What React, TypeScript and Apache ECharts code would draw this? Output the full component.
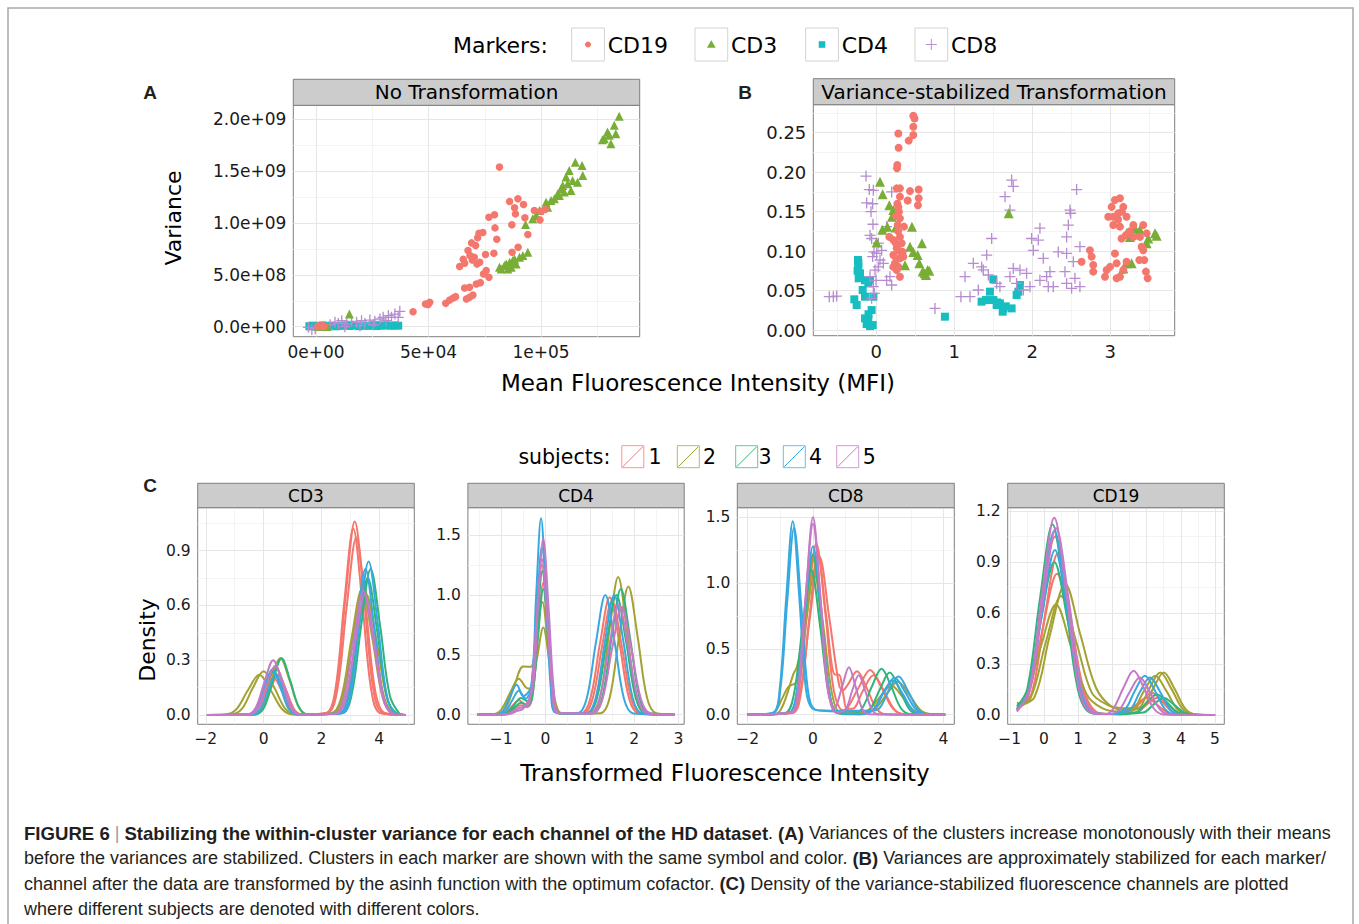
import React, { useEffect, useRef } from "react";
import * as echarts from "echarts";

// ---------------- fonts / colours ----------------
const FONT = "DejaVu Sans";
const CAP_FONT = "Liberation Sans";
const MARKER_NAMES = ["CD19", "CD3", "CD4", "CD8"];
const MARKER_COLORS = ["#F4776D", "#78AE36", "#17BEC1", "#B58DD0"];
const SUBJECTS = ["1", "2", "3", "4", "5"];
const SUBJECT_COLORS = ["#F4766C", "#A3A232", "#2DB57B", "#38A9E0", "#C47AC5"];

// ---------------- Panel A: No Transformation  [MFI, variance] ----------------
const noTransCD19: [number, number][] = [
  [81.5e3, 15.39e8], [89.7e3, 12.33e8], [86.0e3, 12.08e8], [88.2e3, 11.46e8], [92.2e3, 11.79e8],
  [88.6e3, 10.88e8], [92.8e3, 10.5e8], [87.0e3, 9.82e8], [94.1e3, 8.89e8], [89.8e3, 7.66e8],
  [87.1e3, 7.18e8], [97.0e3, 11.21e8], [100.0e3, 11.14e8], [101.8e3, 11.3e8], [99.5e3, 10.3e8],
  [76.8e3, 10.56e8], [79.3e3, 10.79e8], [79.5e3, 9.53e8], [80.3e3, 8.44e8], [79.0e3, 7.08e8],
  [75.3e3, 6.96e8], [72.4e3, 9.02e8], [74.1e3, 9.08e8], [71.8e3, 8.57e8], [69.1e3, 8.08e8],
  [70.9e3, 7.82e8], [67.5e3, 7.34e8], [68.4e3, 6.86e8], [65.4e3, 6.5e8], [66.0e3, 6.12e8],
  [63.8e3, 5.8e8], [70.3e3, 6.7e8], [72.7e3, 6.21e8], [71.5e3, 6.05e8], [69.4e3, 6.44e8],
  [75.6e3, 5.41e8], [74.4e3, 5.09e8], [76.8e3, 4.77e8], [73.0e3, 4.25e8], [71.2e3, 4.12e8],
  [68.2e3, 3.8e8], [66.0e3, 3.74e8], [69.7e3, 3.06e8], [68.2e3, 2.83e8], [66.8e3, 2.67e8],
  [62.0e3, 2.9e8], [60.9e3, 2.77e8], [59.4e3, 2.58e8], [57.6e3, 2.25e8], [50.5e3, 2.35e8],
  [49.8e3, 2.13e8], [48.6e3, 2.19e8], [43.1e3, 1.45e8],
  [0.8e3, 0.02e8], [1.5e3, 0.05e8], [2.2e3, 0.03e8], [3.0e3, 0.06e8], [2.5e3, 0.1e8], [1.0e3, 0.08e8], [3.5e3, 0.04e8],
];
const noTransCD3: [number, number][] = [
  [134.7e3, 20.29e8], [132.5e3, 19.42e8], [133.2e3, 18.61e8], [128.1e3, 18.13e8], [130.3e3, 18.45e8],
  [131.0e3, 17.65e8], [127.3e3, 18.03e8], [129.5e3, 18.77e8],
  [115.2e3, 15.87e8], [118.2e3, 15.55e8], [112.5e3, 15.07e8], [111.1e3, 14.43e8], [118.5e3, 14.59e8],
  [114.0e3, 14.1e8], [109.6e3, 13.62e8], [108.9e3, 13.3e8], [107.4e3, 12.82e8], [105.9e3, 12.33e8],
  [102.2e3, 12.01e8], [102.9e3, 11.53e8], [99.3e3, 11.21e8], [97.8e3, 10.72e8], [96.3e3, 10.4e8],
  [111.8e3, 13.78e8], [116.2e3, 13.94e8], [113.3e3, 13.14e8], [110.3e3, 12.98e8], [108.1e3, 12.65e8],
  [104.4e3, 12.17e8], [93.1e3, 9.85e8],
  [81.5e3, 5.73e8], [83.7e3, 5.89e8], [86.0e3, 6.21e8], [87.4e3, 6.38e8], [88.2e3, 6.54e8],
  [90.4e3, 6.7e8], [91.9e3, 6.86e8], [94.1e3, 7.18e8], [82.3e3, 5.57e8], [85.2e3, 5.57e8],
  [86.7e3, 5.73e8], [88.9e3, 6.05e8], [84.5e3, 6.05e8],
  [14.8e3, 1.22e8], [1.0e3, 0.05e8], [3.0e3, 0.08e8], [5.0e3, 0.03e8], [4.0e3, 0.1e8], [2.0e3, 0.02e8],
];
const noTransCD4: [number, number][] = [
  [-3e3, 0.05e8], [-1.5e3, 0.1e8], [0, 0.02e8], [1.5e3, 0.08e8], [3e3, 0.12e8], [5e3, 0.06e8],
  [7e3, 0.1e8], [9e3, 0.04e8], [11e3, 0.09e8], [13e3, 0.11e8], [15e3, 0.07e8], [17e3, 0.13e8],
  [19e3, 0.05e8], [21e3, 0.1e8], [23e3, 0.08e8], [25e3, 0.12e8], [27e3, 0.06e8], [29e3, 0.1e8],
  [31e3, 0.14e8], [33e3, 0.09e8], [35e3, 0.12e8], [36.5e3, 0.1e8],
];
const noTransCD8: [number, number][] = [
  [-3.4e3, -0.06e8], [-1.9e3, -0.3e8], [-0.4e3, -0.2e8], [6.2e3, 0.19e8], [8.4e3, 0.42e8],
  [9.9e3, 0.32e8], [11.4e3, 0.58e8], [13.6e3, 0.26e8], [15.8e3, 0.52e8], [18.0e3, 0.42e8],
  [20.2e3, 0.58e8], [21.7e3, 0.32e8], [23.9e3, 0.64e8], [26.1e3, 0.52e8], [28.4e3, 0.74e8],
  [29.8e3, 0.9e8], [31.0e3, 0.58e8], [32.1e3, 1.06e8], [33.5e3, 0.9e8], [35.0e3, 1.22e8],
  [36.5e3, 0.9e8], [37.2e3, 1.48e8], [12.8e3, 0.0e8], [19.5e3, 0.1e8], [25.4e3, 0.19e8],
];

// ---------------- Panel B: Variance-stabilized [MFI, variance] ----------------
const vsCD19: [number, number][] = [
  [0.474, 0.2715], [0.49, 0.268], [0.474, 0.2576], [0.474, 0.247], [0.415, 0.24], [0.282, 0.249],
  [0.286, 0.231], [0.269, 0.209], [0.265, 0.205], [0.261, 0.1795], [0.303, 0.1795], [0.432, 0.176],
  [0.543, 0.178], [0.543, 0.167], [0.534, 0.158], [0.402, 0.164], [0.303, 0.169], [0.282, 0.156],
  [0.252, 0.144], [0.303, 0.1415], [0.274, 0.133], [0.355, 0.131], [0.167, 0.118], [0.218, 0.114],
  [0.303, 0.118], [0.325, 0.11], [0.261, 0.1035], [0.218, 0.095], [0.338, 0.099], [0.303, 0.091],
  [0.239, 0.0845], [0.261, 0.076], [0.303, 0.0676], [0.346, 0.093], [0.282, 0.08], [0.218, 0.08],
  [0.28, 0.125], [0.26, 0.09], [0.3, 0.1], [0.29, 0.15], [0.27, 0.16], [0.25, 0.11],
  [3.06, 0.1647], [3.124, 0.167], [3.017, 0.156], [3.167, 0.156], [2.974, 0.1436], [3.038, 0.1436],
  [3.209, 0.1436], [3.102, 0.148], [3.038, 0.133], [3.124, 0.131], [3.295, 0.133], [3.423, 0.133],
  [3.145, 0.116], [3.38, 0.118], [3.466, 0.1225], [3.402, 0.1056], [3.423, 0.101], [2.739, 0.101],
  [2.761, 0.093], [2.632, 0.0866], [2.782, 0.0823], [2.782, 0.074], [2.932, 0.0676], [2.953, 0.076],
  [2.996, 0.08], [3.06, 0.097], [3.081, 0.0845], [3.209, 0.0866], [3.167, 0.076], [3.081, 0.0655],
  [3.124, 0.0676], [3.372, 0.0887], [3.436, 0.0887], [3.457, 0.074], [3.479, 0.0655],
  [3.1, 0.14], [3.15, 0.15], [3.2, 0.12], [3.3, 0.118], [3.25, 0.125],
];
const vsCD3: [number, number][] = [
  [0.047, 0.188], [0.081, 0.172], [0.167, 0.158], [0.201, 0.1436], [0.218, 0.152], [0.141, 0.131],
  [0.077, 0.127], [0.457, 0.131], [0.004, 0.111], [0.585, 0.11], [0.474, 0.099], [0.53, 0.095],
  [0.551, 0.0845], [0.658, 0.076], [0.637, 0.0697], [0.594, 0.074], [0.368, 0.082], [0.432, 0.1056],
  [0.231, 0.0845], [0.62, 0.072], [0.68, 0.075], [0.25, 0.13], [1.697, 0.148],
  [3.316, 0.129], [3.38, 0.127], [3.487, 0.116], [3.594, 0.1195], [3.573, 0.1225], [3.252, 0.118],
  [3.209, 0.1225], [3.466, 0.11], [3.167, 0.078], [3.209, 0.0845], [3.274, 0.0845],
];
const vsCD4: [number, number][] = [
  [-0.235, 0.0887], [-0.231, 0.08], [-0.209, 0.0718], [-0.226, 0.0655], [-0.145, 0.063], [-0.081, 0.063],
  [-0.175, 0.0507], [-0.145, 0.0422], [-0.038, 0.0422], [-0.103, 0.0591], [-0.282, 0.0389], [-0.252, 0.0317],
  [-0.06, 0.0253], [-0.103, 0.0127], [-0.047, 0.0063], [-0.124, 0.0076], [-0.145, 0.0148],
  [-0.23, 0.085], [-0.24, 0.075], [-0.1, 0.02], [-0.08, 0.005], [0.88, 0.0169],
  [1.5, 0.0642], [1.457, 0.0486], [1.35, 0.0359], [1.406, 0.038], [1.5, 0.038], [1.543, 0.0317],
  [1.585, 0.0338], [1.628, 0.0274], [1.62, 0.0232], [1.735, 0.0274], [1.821, 0.0486], [1.842, 0.057],
  [1.799, 0.0443], [1.55, 0.035], [1.66, 0.03],
];
const vsCD8: [number, number][] = [
  [-0.603, 0.0422], [-0.551, 0.0422], [-0.509, 0.043], [-0.132, 0.195], [-0.09, 0.178], [-0.038, 0.177],
  [-0.124, 0.161], [-0.047, 0.16], [-0.068, 0.15], [-0.043, 0.134], [-0.081, 0.12], [-0.06, 0.116],
  [-0.03, 0.099], [0.004, 0.097], [-0.047, 0.093], [0.047, 0.0887], [0.09, 0.0845], [0.026, 0.08],
  [-0.017, 0.076], [-0.081, 0.0676], [-0.004, 0.063], [-0.038, 0.0549], [-0.026, 0.0465], [-0.06, 0.0401],
  [0.132, 0.063], [0.197, 0.057], [0.175, 0.0676], [0.026, 0.11], [0.068, 0.101], [0.197, 0.175],
  [0.132, 0.131], [0.752, 0.0274],
  [1.085, 0.0422], [1.137, 0.0676], [1.244, 0.0845], [1.35, 0.08], [1.415, 0.095], [1.479, 0.116],
  [1.372, 0.0761], [1.308, 0.0507], [1.201, 0.0422], [1.436, 0.0697], [1.65, 0.169], [1.714, 0.152],
  [1.735, 0.19], [1.756, 0.182], [1.756, 0.078], [1.714, 0.0676], [1.799, 0.0591], [1.927, 0.0718],
  [1.97, 0.0549], [1.991, 0.116], [2.013, 0.101], [2.098, 0.129], [2.077, 0.114], [2.141, 0.0908],
  [2.098, 0.063], [2.184, 0.0676], [2.226, 0.0739], [2.205, 0.0549], [2.269, 0.0549], [2.333, 0.099],
  [2.419, 0.0739], [2.44, 0.118], [2.462, 0.133], [2.483, 0.152], [2.491, 0.148], [2.44, 0.097],
  [2.568, 0.178], [2.526, 0.0866], [2.504, 0.0528], [2.611, 0.0549], [2.547, 0.0655], [2.611, 0.1056],
  [2.44, 0.0591], [1.885, 0.0507], [1.842, 0.076], [1.543, 0.0591], [1.585, 0.0549],
];

// ---------------- Panel C: density curves [transformed intensity, density] ----------------
type Curve = [number, number][];
const cd3S1: Curve[] = [
  [[-1.96, 0], [-0.48, .003], [-0.18, .035], [0.12, .158], [0.42, .26], [0.72, .158], [1.02, .035], [1.32, .003], [2.19, .012], [2.51, .143], [2.83, .643], [3.15, 1.06], [3.47, .643], [3.79, .143], [4.11, .012], [4.9, 0]],
  [[-1.96, 0], [-0.34, .002], [-0.06, .03], [0.22, .134], [0.5, .22], [0.78, .134], [1.06, .03], [1.34, .002], [2.21, .011], [2.54, .131], [2.87, .589], [3.2, .97], [3.53, .589], [3.86, .131], [4.19, .011], [4.9, 0]],
  [[-1.96, 0], [-0.54, .002], [-0.24, .027], [0.06, .121], [0.36, .2], [0.66, .121], [0.96, .027], [1.26, .002], [2.17, .011], [2.48, .138], [2.79, .619], [3.1, 1.02], [3.41, .619], [3.72, .138], [4.03, .011], [4.9, 0]],
];
const cd3S2: Curve[] = [
  [[-1.96, 0], [-1.14, .003], [-0.76, .032], [-0.38, .146], [0, .24], [0.38, .146], [0.76, .032], [1.14, .003], [2.37, .008], [2.73, .095], [3.09, .425], [3.45, .7], [3.81, .425], [4.17, .095], [4.53, .008], [4.9, 0]],
  [[-1.96, 0], [-0.38, .003], [-0.06, .042], [0.26, .188], [0.58, .31], [0.9, .188], [1.22, .042], [1.54, .003], [2.47, .007], [2.83, .089], [3.19, .401], [3.55, .66], [3.91, .401], [4.27, .089], [4.63, .007], [4.9, 0]],
  [[-1.96, 0], [-1.35, .002], [-0.95, .03], [-0.55, .134], [-0.15, .22], [0.25, .134], [0.65, .03], [1.05, .002], [2.32, .008], [2.68, .093], [3.04, .419], [3.4, .69], [3.76, .419], [4.12, .093], [4.48, .008], [4.9, 0]],
];
const cd3S3: Curve[] = [
  [[-1.96, 0], [-0.28, .003], [0.02, .042], [0.32, .188], [0.62, .31], [0.92, .188], [1.22, .042], [1.52, .003], [2.71, .009], [3.04, .108], [3.37, .486], [3.7, .8], [4.03, .486], [4.36, .108], [4.69, .009], [4.9, 0]],
  [[-1.96, 0], [-0.55, .003], [-0.25, .032], [0.05, .146], [0.35, .24], [0.65, .146], [0.95, .032], [1.25, .003], [2.61, .008], [2.94, .101], [3.27, .455], [3.6, .75], [3.93, .455], [4.26, .101], [4.59, .008], [4.9, 0]],
];
const cd3S4: Curve[] = [
  [[-1.96, 0], [-0.54, .003], [-0.26, .034], [0.02, .152], [0.3, .25], [0.58, .152], [0.86, .034], [1.14, .003], [2.7, .009], [3.01, .113], [3.32, .51], [3.63, .84], [3.94, .51], [4.25, .113], [4.56, .009], [4.9, 0]],
  [[-1.96, 0], [-0.39, .002], [-0.12, .03], [0.15, .134], [0.42, .22], [0.69, .134], [0.96, .03], [1.23, .002], [2.62, .009], [2.92, .108], [3.22, .486], [3.52, .8], [3.82, .486], [4.12, .108], [4.42, .009], [4.9, 0]],
];
const cd3S5: Curve[] = [
  [[-1.96, 0], [-0.57, .003], [-0.27, .041], [0.03, .182], [0.33, .3], [0.63, .182], [0.93, .041], [1.23, .003], [2.43, .007], [2.77, .092], [3.11, .413], [3.45, .68], [3.79, .413], [4.13, .092], [4.47, .007], [4.9, 0]],
  [[-1.96, 0], [-0.5, .003], [-0.2, .036], [0.1, .164], [0.4, .27], [0.7, .164], [1.0, .036], [1.3, .003], [2.51, .007], [2.84, .089], [3.17, .401], [3.5, .66], [3.83, .401], [4.16, .089], [4.49, .007], [4.9, 0]],
];

const cd4S1: Curve[] = [
  [[-1.54, 0], [-1.05, .001], [-0.9, .016], [-0.75, .073], [-0.6, .12], [-0.45, .084], [-0.32, .19], [-0.2, .762], [-0.08, 1.25], [0.04, .759], [0.16, .169], [0.28, .014], [0.79, .011], [1.01, .132], [1.23, .595], [1.45, .98], [1.67, .595], [1.89, .132], [2.11, .011], [2.92, 0]],
  [[-1.54, 0], [-1.0, .001], [-0.85, .011], [-0.7, .049], [-0.55, .08], [-0.4, .064], [-0.29, .167], [-0.17, .671], [-0.05, 1.1], [0.07, .668], [0.19, .149], [0.31, .012], [0.84, .01], [1.06, .128], [1.28, .577], [1.5, .95], [1.72, .577], [1.94, .128], [2.16, .01], [2.92, 0]],
];
const cd4S2: Curve[] = [
  [[-1.54, 0], [-1.1, .004], [-0.9, .054], [-0.7, .243], [-0.5, .403], [-0.33, .4], [-0.2, .676], [-0.07, .94], [0.06, .554], [0.19, .123], [0.32, .01], [1.04, .013], [1.24, .155], [1.44, .698], [1.64, 1.15], [1.84, .698], [2.04, .155], [2.24, .013], [2.92, 0]],
  [[-1.54, 0], [-1.2, .003], [-1.0, .041], [-0.8, .182], [-0.6, .3], [-0.42, .222], [-0.33, .218], [-0.19, .474], [-0.05, .727], [0.09, .437], [0.23, .097], [0.37, .008], [1.24, .012], [1.45, .144], [1.66, .649], [1.87, 1.07], [2.08, .649], [2.29, .144], [2.5, .012], [2.92, 0]],
];
const cd4S3: Curve[] = [
  [[-1.54, 0], [-1.0, .002], [-0.85, .019], [-0.7, .085], [-0.55, .14], [-0.4, .112], [-0.31, .201], [-0.19, .736], [-0.07, 1.2], [0.05, .728], [0.17, .162], [0.29, .013], [1.07, .012], [1.28, .142], [1.49, .637], [1.7, 1.05], [1.91, .637], [2.12, .142], [2.33, .012], [2.92, 0]],
  [[-1.54, 0], [-1.0, .001], [-0.85, .014], [-0.7, .061], [-0.55, .1], [-0.4, .076], [-0.29, .164], [-0.17, .641], [-0.05, 1.05], [0.07, .637], [0.19, .142], [0.31, .012], [0.94, .011], [1.16, .135], [1.38, .607], [1.6, 1.0], [1.82, .607], [2.04, .135], [2.26, .011], [2.92, 0]],
];
const cd4S4: Curve[] = [
  [[-1.54, 0], [-1.1, .003], [-0.95, .034], [-0.8, .152], [-0.65, .25], [-0.5, .154], [-0.32, .243], [-0.21, .998], [-0.1, 1.64], [0.01, .995], [0.12, .221], [0.23, .018], [0.72, .011], [0.93, .135], [1.14, .607], [1.35, 1.0], [1.56, .607], [1.77, .135], [1.98, .011], [2.92, 0]],
  [[-1.54, 0], [-1.05, .002], [-0.9, .027], [-0.75, .121], [-0.6, .2], [-0.45, .134], [-0.32, .224], [-0.2, .856], [-0.08, 1.4], [0.04, .85], [0.16, .189], [0.28, .015], [0.92, .011], [1.13, .135], [1.34, .607], [1.55, 1.0], [1.76, .607], [1.97, .135], [2.18, .011], [2.92, 0]],
];
const cd4S5: Curve[] = [
  [[-1.54, 0], [-0.95, .001], [-0.8, .007], [-0.65, .03], [-0.5, .051], [-0.29, .217], [-0.17, .896], [-0.05, 1.47], [0.07, .892], [0.19, .198], [0.31, .016], [1.06, .01], [1.28, .122], [1.5, .546], [1.72, .9], [1.94, .546], [2.16, .122], [2.38, .01], [2.92, 0]],
  [[-1.54, 0], [-1.0, .001], [-0.85, .008], [-0.7, .036], [-0.55, .06], [-0.4, .072], [-0.32, .195], [-0.2, .791], [-0.08, 1.3], [0.04, .789], [0.16, .176], [0.28, .014], [0.99, .01], [1.21, .124], [1.43, .558], [1.65, .92], [1.87, .558], [2.09, .124], [2.31, .01], [2.92, 0]],
];

const cd8S1: Curve[] = [
  [[-2.02, 0], [-0.71, .014], [-0.44, .176], [-0.17, .789], [0.1, 1.3], [0.37, .789], [0.64, .179], [0.91, .033], [1.05, .05], [1.4, .206], [1.75, .34], [2.1, .206], [2.45, .046], [2.8, .004], [4.05, 0]],
  [[-2.02, 0], [-0.7, .013], [-0.4, .162], [-0.1, .728], [0.2, 1.2], [0.5, .734], [0.8, .224], [0.92, .186], [1.05, .222], [1.35, .331], [1.65, .2], [1.95, .045], [2.25, .004], [4.05, 0]],
  [[-2.02, 0], [-0.63, .013], [-0.37, .165], [-0.11, .741], [0.15, 1.22], [0.41, .741], [0.67, .304], [0.8, .303], [0.92, .167], [1.04, .046], [1.21, .045], [1.53, .182], [1.85, .3], [2.17, .182], [2.49, .041], [2.81, .003], [4.05, 0]],
];
const cd8S2: Curve[] = [
  [[-2.02, 0], [-1.35, .002], [-1.15, .027], [-0.95, .121], [-0.75, .213], [-0.5, .251], [-0.25, .725], [0, 1.18], [0.25, .716], [0.5, .159], [0.75, .013], [1.2, .02], [1.55, .02], [1.9, .045], [2.25, .152], [2.6, .25], [2.95, .152], [3.3, .034], [3.65, .003], [4.05, 0]],
  [[-2.02, 0], [-1.2, .003], [-1.0, .034], [-0.8, .152], [-0.6, .31], [-0.49, .364], [-0.22, .709], [0.05, 1.1], [0.32, .668], [0.59, .149], [0.86, .012], [1.35, .01], [1.7, .035], [2.05, .134], [2.4, .22], [2.75, .134], [3.1, .03], [3.45, .002], [4.05, 0]],
];
const cd8S3: Curve[] = [
  [[-2.02, 0], [-0.75, .013], [-0.5, .165], [-0.25, .741], [0, 1.22], [0.25, .741], [0.5, .165], [0.75, .013], [1.2, .004], [1.5, .047], [1.8, .212], [2.1, .35], [2.4, .212], [2.7, .047], [3.0, .004], [4.05, 0]],
  [[-2.02, 0], [-0.86, .012], [-0.59, .149], [-0.32, .668], [-0.05, 1.1], [0.22, .668], [0.49, .149], [0.76, .012], [1.45, .004], [1.75, .043], [2.05, .194], [2.35, .32], [2.65, .194], [2.95, .043], [3.25, .004], [4.05, 0]],
];
const cd8S4: Curve[] = [
  [[-2.02, 0], [-1.22, .016], [-1.02, .198], [-0.82, .892], [-0.62, 1.47], [-0.42, .892], [-0.22, .198], [-0.02, .046], [0.3, .032], [1.0, .03], [1.7, .03], [2.02, .045], [2.32, .186], [2.62, .29], [2.92, .176], [3.22, .039], [3.52, .003], [4.05, 0]],
  [[-2.02, 0], [-1.21, .016], [-1.0, .192], [-0.79, .862], [-0.58, 1.42], [-0.37, .862], [-0.16, .192], [0.05, .04], [0.5, .027], [1.2, .025], [1.85, .04], [2.15, .168], [2.45, .26], [2.75, .158], [3.05, .035], [3.35, .003], [4.05, 0]],
  [[-2.02, 0], [-0.75, .014], [-0.5, .173], [-0.25, .777], [0, 1.28], [0.25, .777], [0.5, .173], [0.75, .014], [1.51, .003], [1.84, .038], [2.17, .17], [2.5, .28], [2.83, .17], [3.16, .038], [3.49, .003], [4.05, 0]],
];
const cd8S5: Curve[] = [
  [[-2.02, 0], [-0.66, .017], [-0.44, .203], [-0.22, .911], [0, 1.5], [0.22, .911], [0.44, .205], [0.66, .049], [0.9, .219], [1.1, .36], [1.3, .219], [1.5, .049], [1.7, .004], [4.05, 0]],
  [[-2.02, 0], [-0.69, .016], [-0.46, .196], [-0.23, .88], [0, 1.45], [0.23, .88], [0.46, .196], [0.69, .018], [1.0, .041], [1.2, .182], [1.4, .3], [1.6, .182], [1.8, .041], [2.0, .003], [4.05, 0]],
];

const cd19S1: Curve[] = [
  [[-0.79, .035], [-0.44, .142], [-0.06, .637], [0.32, 1.05], [0.7, .637], [1.08, .142], [1.46, .012], [1.9, .005], [2.25, .003], [2.55, .018], [2.85, .079], [3.15, .13], [3.45, .079], [3.75, .018], [4.05, .001], [5.0, 0]],
  [[-0.79, .03], [-0.46, .112], [-0.04, .504], [0.38, .83], [0.8, .504], [1.22, .112], [1.64, .009], [2.0, .006], [2.7, .014], [3.0, .061], [3.3, .1], [3.6, .061], [3.9, .014], [4.2, .001], [5.0, 0]],
  [[-0.79, .03], [-0.36, .128], [0.02, .577], [0.4, .95], [0.78, .577], [1.16, .128], [1.54, .01], [2.0, .005], [2.4, .011], [2.7, .061], [3.0, .1], [3.3, .061], [3.6, .014], [3.9, .001], [5.0, 0]],
];
const cd19S2: Curve[] = [
  [[-0.79, .05], [-0.28, .104], [0.17, .467], [0.62, .77], [1.07, .467], [1.52, .16], [1.97, .05], [2.4, .03], [2.74, .034], [3.07, .152], [3.4, .25], [3.73, .152], [4.06, .034], [4.39, .003], [5.0, 0]],
  [[-0.79, .06], [-0.55, .088], [-0.1, .395], [0.35, .65], [0.8, .395], [1.25, .12], [1.7, .04], [2.2, .02], [2.59, .031], [2.92, .14], [3.25, .23], [3.58, .14], [3.91, .031], [4.24, .003], [5.0, 0]],
  [[-0.79, .07], [-0.4, .095], [0.05, .425], [0.5, .7], [0.95, .425], [1.4, .13], [1.85, .06], [2.3, .04], [2.86, .045], [3.18, .152], [3.5, .25], [3.82, .152], [4.14, .034], [4.46, .003], [5.0, 0]],
];
const cd19S3: Curve[] = [
  [[-0.79, .05], [-0.49, .151], [-0.12, .68], [0.25, 1.12], [0.62, .68], [0.99, .151], [1.36, .012], [1.8, .005], [2.9, .014], [3.2, .061], [3.5, .1], [3.8, .061], [4.1, .014], [4.4, .001], [5.0, 0]],
  [[-0.79, .04], [-0.5, .122], [-0.1, .546], [0.3, .9], [0.7, .546], [1.1, .122], [1.5, .01], [2.0, .005], [2.7, .016], [3.0, .073], [3.3, .12], [3.6, .073], [3.9, .016], [4.2, .001], [5.0, 0]],
];
const cd19S4: Curve[] = [
  [[-0.79, .03], [-0.44, .146], [-0.07, .656], [0.3, 1.08], [0.67, .656], [1.04, .146], [1.41, .012], [1.8, .005], [2.35, .031], [2.65, .14], [2.95, .23], [3.25, .14], [3.55, .031], [3.85, .003], [5.0, 0]],
  [[-0.79, .03], [-0.44, .131], [-0.06, .589], [0.32, .97], [0.7, .589], [1.08, .131], [1.46, .011], [1.9, .005], [2.5, .03], [2.8, .134], [3.1, .22], [3.4, .134], [3.7, .03], [4.0, .002], [5.0, 0]],
];
const cd19S5: Curve[] = [
  [[-0.79, .02], [-0.42, .157], [-0.06, .704], [0.3, 1.16], [0.66, .704], [1.02, .157], [1.38, .013], [1.8, .005], [2.02, .035], [2.32, .158], [2.62, .26], [2.92, .158], [3.22, .035], [3.52, .003], [5.0, 0]],
  [[-0.79, .025], [-0.41, .149], [-0.03, .668], [0.35, 1.1], [0.73, .668], [1.11, .149], [1.49, .012], [1.9, .005], [2.2, .03], [2.5, .134], [2.8, .22], [3.1, .134], [3.4, .03], [3.7, .002], [5.0, 0]],
];

// ---------------- tick values / labels ----------------
const aXTicks = [0, 5e4, 1e5];
const aXLabels = ["0e+00", "5e+04", "1e+05"];
const aXMinor = [2.5e4, 7.5e4, 1.25e5];
const aYTicks = [0, 5e8, 1e9, 1.5e9, 2e9];
const aYLabels = ["0.0e+00", "5.0e+08", "1.0e+09", "1.5e+09", "2.0e+09"];
const aYMinor = [2.5e8, 7.5e8, 1.25e9, 1.75e9];
const bXTicks = [0, 1, 2, 3];
const bXMinor = [-0.5, 0.5, 1.5, 2.5, 3.5];
const bYTicks = [0, 0.05, 0.1, 0.15, 0.2, 0.25];
const bYMinor = [0.025, 0.075, 0.125, 0.175, 0.225, 0.275];

const MAJOR = "#E6E6E6";
const MINOR = "#F4F4F4";
const BORDER = "#7F7F7F";

const facets = [
  { name: "CD3", left: 197.7, width: 216.6, x: [-2.28, 5.21], y: [-0.051, 1.135], xt: [-2, 0, 2, 4], xm: [-1, 1, 3, 5], yt: [0, 0.3, 0.6, 0.9], ym: [0.15, 0.45, 0.75, 1.05], curves: [cd3S1, cd3S2, cd3S3, cd3S4, cd3S5] },
  { name: "CD4", left: 467.9, width: 216.3, x: [-1.75, 3.13], y: [-0.08, 1.728], xt: [-1, 0, 1, 2, 3], xm: [-1.5, -0.5, 0.5, 1.5, 2.5], yt: [0, 0.5, 1, 1.5], ym: [0.25, 0.75, 1.25], curves: [cd4S1, cd4S2, cd4S3, cd4S4, cd4S5] },
  { name: "CD8", left: 737.3, width: 217, x: [-2.32, 4.33], y: [-0.073, 1.573], xt: [-2, 0, 2, 4], xm: [-1, 1, 3], yt: [0, 0.5, 1, 1.5], ym: [0.25, 0.75, 1.25], curves: [cd8S1, cd8S2, cd8S3, cd8S4, cd8S5] },
  { name: "CD19", left: 1007.7, width: 216.6, x: [-1.06, 5.27], y: [-0.055, 1.219], xt: [-1, 0, 1, 2, 3, 4, 5], xm: [-0.5, 0.5, 1.5, 2.5, 3.5, 4.5], yt: [0, 0.3, 0.6, 0.9, 1.2], ym: [0.15, 0.45, 0.75, 1.05], curves: [cd19S1, cd19S2, cd19S3, cd19S4, cd19S5] },
];

const PLUS = "path://M4.4,0H5.6V4.4H10V5.6H5.6V10H4.4V5.6H0V4.4H4.4Z";
const minusFmt = (d: number) => (v: number) => (v < 0 ? "\u2212" : "") + Math.abs(v).toFixed(d);

function buildOption() {
  const grids: any[] = [];
  const xAxes: any[] = [];
  const yAxes: any[] = [];
  const series: any[] = [];
  const graphics: any[] = [];

  const axis = (gi: number, min: number, max: number, ticks: number[], fmt: (v: number) => string, fs: number) => ({
    type: "value", gridIndex: gi, min, max,
    axisLine: { show: false },
    splitLine: { show: false },
    minorSplitLine: { show: false },
    axisTick: { show: true, length: 4, customValues: ticks, lineStyle: { color: BORDER, width: 1 } },
    axisLabel: { show: true, customValues: ticks, formatter: fmt, color: "#1a1a1a", fontSize: fs, fontFamily: FONT, margin: 7 },
  });

  const addPanel = (left: number, top: number, width: number, height: number, xr: number[], yr: number[],
    xt: number[], xm: number[], yt: number[], ym: number[], xf: any, yf: any, fs: number) => {
    const gi = grids.length;
    grids.push({ left, top, width, height, show: true, backgroundColor: "#fff", borderColor: BORDER, borderWidth: 1, containLabel: false, outerBoundsMode: "none" });
    xAxes.push(axis(gi, xr[0], xr[1], xt, xf, fs));
    yAxes.push(axis(gi, yr[0], yr[1], yt, yf, fs));
    const lines = [
      ...xm.filter((v) => v > xr[0] && v < xr[1]).map((v) => ({ xAxis: v, lineStyle: { color: MINOR, width: 1, type: "solid" } })),
      ...ym.filter((v) => v > yr[0] && v < yr[1]).map((v) => ({ yAxis: v, lineStyle: { color: MINOR, width: 1, type: "solid" } })),
      ...xt.map((v) => ({ xAxis: v, lineStyle: { color: MAJOR, width: 1, type: "solid" } })),
      ...yt.map((v) => ({ yAxis: v, lineStyle: { color: MAJOR, width: 1, type: "solid" } })),
    ];
    series.push({
      type: "scatter", xAxisIndex: gi, yAxisIndex: gi, data: [], silent: true, z: 1,
      markLine: { silent: true, symbol: ["none", "none"], precision: 10, label: { show: false }, emphasis: { disabled: true }, animation: false, z: 1, data: lines },
    });
    return gi;
  };

  // ---- Panel A ----
  const gA = addPanel(293.3, 105.3, 346.4, 231.4, [-10133, 143822], [-9.64e7, 2.135e9], aXTicks, aXMinor, aYTicks, aYMinor,
    (v: number) => aXLabels[aXTicks.indexOf(v)] ?? "", (v: number) => aYLabels[aYTicks.indexOf(v)] ?? "", 17);
  // ---- Panel B ----
  const gB = addPanel(813.3, 104.7, 361.4, 231.0, [-0.808, 3.826], [-0.0072, 0.2855], bXTicks, bXMinor, bYTicks, bYMinor,
    (v: number) => String(v), (v: number) => v.toFixed(2), 18);

  const scatterSets = [
    { gi: gA, sets: [noTransCD4, noTransCD8, noTransCD3, noTransCD19], sizes: [8, 11, 9, 7.5] },
    { gi: gB, sets: [vsCD4, vsCD8, vsCD3, vsCD19], sizes: [8, 11, 10, 8] },
  ];
  const order = [2, 3, 1, 0]; // CD4, CD8, CD3, CD19 (drawing order)
  const symbols = ["circle", "triangle", "rect", PLUS];
  scatterSets.forEach(({ gi, sets, sizes }) => {
    sets.forEach((data, k) => {
      const m = order[k];
      series.push({
        type: "scatter", name: MARKER_NAMES[m], xAxisIndex: gi, yAxisIndex: gi, data,
        symbol: symbols[m], symbolSize: sizes[k], itemStyle: { color: MARKER_COLORS[m], opacity: 1 },
        silent: true, z: 2 + k,
      });
    });
  });

  // ---- Panel C ----
  const cTop = 507.7, cH = 216.6;
  facets.forEach((f) => {
    const gi = addPanel(f.left, cTop, f.width, cH, f.x, f.y, f.xt, f.xm, f.yt, f.ym, minusFmt(0), minusFmt(1), 15.5);
    f.curves.forEach((curves, s) => {
      curves.forEach((c) => {
        series.push({
          type: "line", xAxisIndex: gi, yAxisIndex: gi, data: c, showSymbol: false, symbol: "none",
          smooth: 0.35, lineStyle: { color: SUBJECT_COLORS[s], width: 2 }, silent: true, z: 2 + s,
        });
      });
    });
    graphics.push({ type: "rect", shape: { x: f.left, y: 483.3, width: f.width, height: 24.4 }, style: { fill: "#CCCCCC", stroke: BORDER, lineWidth: 1 }, z: 10 });
    graphics.push(txt(f.left + f.width / 2, 495.8, f.name, 17));
  });

  // strips A / B
  graphics.push({ type: "rect", shape: { x: 293.3, y: 79.3, width: 346.4, height: 26 }, style: { fill: "#CCCCCC", stroke: BORDER, lineWidth: 1 }, z: 10 });
  graphics.push(txt(466.5, 92.3, "No Transformation", 20));
  graphics.push({ type: "rect", shape: { x: 813.3, y: 78.7, width: 361.4, height: 26 }, style: { fill: "#CCCCCC", stroke: BORDER, lineWidth: 1 }, z: 10 });
  graphics.push(txt(994, 91.7, "Variance-stabilized Transformation", 20));

  // outer frame
  graphics.push({ type: "rect", shape: { x: 8, y: 8, width: 1345, height: 960 }, style: { fill: "none", stroke: "#A8A8A8", lineWidth: 1.5 }, z: 10 });

  // panel letters
  graphics.push(txt(150, 92.5, "A", 19, { fontFamily: CAP_FONT, fontWeight: "bold", fill: "#231F20" }));
  graphics.push(txt(745, 92.5, "B", 19, { fontFamily: CAP_FONT, fontWeight: "bold", fill: "#231F20" }));
  graphics.push(txt(150, 485, "C", 19, { fontFamily: CAP_FONT, fontWeight: "bold", fill: "#231F20" }));

  // axis titles
  graphics.push(txt(173, 218, "Variance", 22, {}, Math.PI / 2));
  graphics.push(txt(698, 383, "Mean Fluorescence Intensity (MFI)", 23));
  graphics.push(txt(147, 640, "Density", 22, {}, Math.PI / 2));
  graphics.push(txt(725, 773, "Transformed Fluorescence Intensity", 23));

  // markers legend
  graphics.push(txt(453, 45.5, "Markers:", 22, { align: "left", textAlign: "left" }));
  const boxX = [571.7, 695, 805.7, 915];
  boxX.forEach((x0, i) => {
    const cx = x0 + 16.3, cy = 44.5;
    graphics.push({ type: "rect", shape: { x: x0, y: 28, width: 32.7, height: 33 }, style: { fill: "#fff", stroke: "#D3D3D3", lineWidth: 1 }, z: 10 });
    const col = MARKER_COLORS[i];
    if (i === 0) graphics.push({ type: "circle", shape: { cx, cy, r: 3 }, style: { fill: col }, z: 11 });
    if (i === 1) graphics.push({ type: "polygon", shape: { points: [[cx, cy - 4.2], [cx + 4.4, cy + 3.2], [cx - 4.4, cy + 3.2]] }, style: { fill: col }, z: 11 });
    if (i === 2) graphics.push({ type: "rect", shape: { x: cx - 3.3, y: cy - 3.3, width: 6.6, height: 6.6 }, style: { fill: col }, z: 11 });
    if (i === 3) {
      graphics.push({ type: "line", shape: { x1: cx - 5.5, y1: cy, x2: cx + 5.5, y2: cy }, style: { stroke: col, lineWidth: 1 }, z: 11 });
      graphics.push({ type: "line", shape: { x1: cx, y1: cy - 5.5, x2: cx, y2: cy + 5.5 }, style: { stroke: col, lineWidth: 1 }, z: 11 });
    }
    graphics.push(txt(x0 + 36, 45.5, MARKER_NAMES[i], 22, { align: "left", textAlign: "left" }));
  });

  // subjects legend
  graphics.push(txt(518.4, 457, "subjects:", 20.5, { align: "left", textAlign: "left" }));
  const sBox = [621.8, 677.3, 735.7, 783.3, 836.7];
  const sLab = [648.5, 703, 758.5, 809, 862.7];
  sBox.forEach((x0, i) => {
    const col = SUBJECT_COLORS[i];
    graphics.push({ type: "rect", shape: { x: x0, y: 445.7, width: 22, height: 22 }, style: { fill: "#fff", stroke: col, lineWidth: 1, opacity: 0.75 }, z: 10 });
    graphics.push({ type: "line", shape: { x1: x0 + 1, y1: 466.7, x2: x0 + 21, y2: 446.7 }, style: { stroke: col, lineWidth: 1 }, z: 11 });
    graphics.push(txt(sLab[i], 457, SUBJECTS[i], 20.5, { align: "left", textAlign: "left" }));
  });

  // caption
  const rs = 18;
  const bs = 18.6;
  const rich = {
    b: { fontFamily: CAP_FONT, fontSize: bs, fontWeight: "bold", fill: "#231F20" },
    r: { fontFamily: CAP_FONT, fontSize: rs, fill: "#231F20" },
    g: { fontFamily: CAP_FONT, fontSize: rs, fill: "#9A9A9A" },
  };
  const capLines = [
    "{b|FIGURE 6}{g| | }{b|Stabilizing the within-cluster variance for each channel of the HD dataset}{r|. }{b|(A)}{r| Variances of the clusters increase monotonously with their means}",
    "{r|before the variances are stabilized. Clusters in each marker are shown with the same symbol and color. }{b|(B)}{r| Variances are approximately stabilized for each marker/}",
    "{r|channel after the data are transformed by the asinh function with the optimum cofactor. }{b|(C)}{r| Density of the variance-stabilized fluorescence channels are plotted}",
    "{r|where different subjects are denoted with different colors.}",
  ];
  const capY = [833, 858.3, 883.6, 909];
  capLines.forEach((t, i) => {
    graphics.push({
      type: "text", x: 24, y: capY[i], z: 12, silent: true,
      style: { text: t, rich, fontFamily: CAP_FONT, fontSize: rs, fill: "#231F20", align: "left", textAlign: "left", verticalAlign: "middle", textVerticalAlign: "middle" },
    });
  });

  return {
    animation: false,
    backgroundColor: "#ffffff",
    textStyle: { fontFamily: FONT },
    grid: grids,
    xAxis: xAxes,
    yAxis: yAxes,
    series,
    graphic: { elements: graphics },
  };
}

function txt(x: number, y: number, text: string, size: number, extra: any = {}, rotation = 0) {
  return {
    type: "text", x, y, rotation, z: 12, silent: true,
    style: {
      text, fontSize: size, fontFamily: FONT, fill: "#000",
      align: "center", textAlign: "center", verticalAlign: "middle", textVerticalAlign: "middle",
      ...extra,
    },
  };
}

export default function App() {
  const ref = useRef<HTMLDivElement>(null);
  useEffect(() => {
    document.body.style.margin = "0";
    const chart = echarts.init(ref.current as HTMLDivElement, undefined, { renderer: "svg", width: 1359, height: 924 });
    chart.setOption(buildOption() as any);
    return () => chart.dispose();
  }, []);
  return <div ref={ref} style={{ width: 1359, height: 924, background: "#fff" }} />;
}
